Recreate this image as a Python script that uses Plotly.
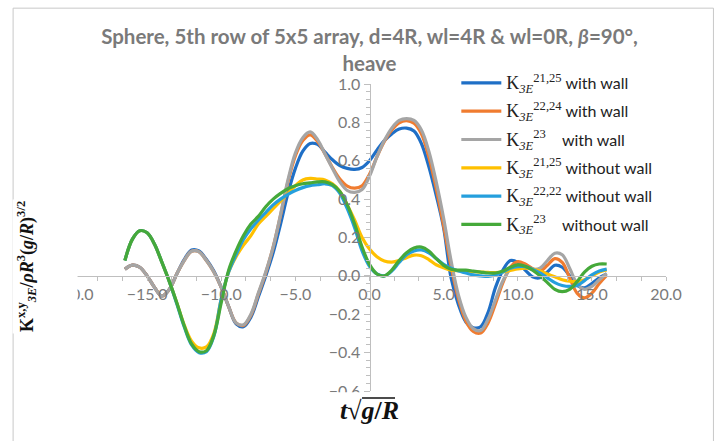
import plotly.graph_objects as go

# ---- data ----
t = [-16.5, -16.0, -15.5, -15.0, -14.5, -14.0, -13.5, -13.0, -12.5, -12.0,
     -11.5, -11.0, -10.5, -10.0, -9.5, -9.0, -8.5, -8.0, -7.5, -7.0,
     -6.5, -6.0, -5.5, -5.0, -4.5, -4.0, -3.5, -3.0, -2.5, -2.0,
     -1.5, -1.0, -0.5, 0.0, 0.5, 1.0, 1.5, 2.0, 2.5, 3.0,
     3.5, 4.0, 4.5, 5.0, 5.5, 6.0, 6.5, 7.0, 7.5, 8.0,
     8.5, 9.0, 9.5, 10.0, 10.5, 11.0, 11.5, 12.0, 12.5, 13.0,
     13.5, 14.0, 14.5, 15.0, 15.5, 16.0]

k2125_wall = [0.035, 0.056, 0.045, 0.000, -0.060, -0.105, -0.070, 0.010, 0.085, 0.135,
              0.130, 0.085, 0.025, -0.060, -0.160, -0.250, -0.265, -0.215, -0.110, 0.000,
              0.120, 0.270, 0.430, 0.560, 0.650, 0.690, 0.685, 0.645, 0.605, 0.575,
              0.560, 0.555, 0.565, 0.600, 0.655, 0.705, 0.740, 0.765, 0.770, 0.755,
              0.690, 0.570, 0.420, 0.250, -0.010, -0.150, -0.240, -0.270, -0.265, -0.190,
              -0.060, 0.030, 0.080, 0.070, 0.030, -0.005, -0.010, 0.020, 0.055, 0.045,
              0.000, -0.050, -0.062, -0.040, -0.010, 0.010]

k2224_wall = [0.035, 0.056, 0.045, 0.000, -0.060, -0.105, -0.070, 0.010, 0.080, 0.128,
              0.125, 0.080, 0.020, -0.060, -0.160, -0.245, -0.258, -0.205, -0.095, 0.015,
              0.150, 0.315, 0.490, 0.625, 0.705, 0.735, 0.700, 0.635, 0.565, 0.505,
              0.468, 0.457, 0.470, 0.530, 0.620, 0.700, 0.760, 0.798, 0.809, 0.795,
              0.740, 0.620, 0.455, 0.260, 0.050, -0.120, -0.235, -0.290, -0.298, -0.245,
              -0.145, -0.035, 0.045, 0.074, 0.062, 0.038, 0.025, 0.055, 0.090, 0.070,
              -0.010, -0.090, -0.115, -0.090, -0.040, 0.002]

k23_wall = [0.035, 0.056, 0.045, 0.000, -0.060, -0.105, -0.070, 0.010, 0.080, 0.128,
            0.125, 0.080, 0.020, -0.060, -0.160, -0.245, -0.255, -0.200, -0.090, 0.020,
            0.150, 0.320, 0.500, 0.640, 0.720, 0.750, 0.710, 0.635, 0.560, 0.490,
            0.445, 0.435, 0.450, 0.520, 0.620, 0.705, 0.770, 0.810, 0.820, 0.810,
            0.760, 0.650, 0.490, 0.300, 0.080, -0.100, -0.215, -0.275, -0.285, -0.225,
            -0.125, -0.025, 0.035, 0.055, 0.050, 0.035, 0.040, 0.080, 0.118, 0.110,
            0.040, -0.040, -0.070, -0.055, -0.020, 0.012]

k2125_nowall = [0.080, 0.190, 0.235, 0.225, 0.165, 0.070, -0.030, -0.140, -0.255, -0.340,
                -0.375, -0.370, -0.300, -0.120, 0.020, 0.100, 0.160, 0.210, 0.270, 0.310,
                0.350, 0.390, 0.430, 0.470, 0.500, 0.508, 0.505, 0.500, 0.480, 0.440,
                0.370, 0.290, 0.200, 0.140, 0.100, 0.078, 0.072, 0.080, 0.095, 0.108,
                0.105, 0.085, 0.058, 0.042, 0.030, 0.027, 0.025, 0.022, 0.020, 0.018,
                0.017, 0.020, 0.028, 0.036, 0.040, 0.036, 0.025, 0.010, -0.005, -0.020,
                -0.028, -0.030, -0.020, 0.000, 0.020, 0.031]

k2222_nowall = [0.080, 0.190, 0.235, 0.225, 0.165, 0.070, -0.030, -0.145, -0.265, -0.360,
                -0.400, -0.395, -0.315, -0.120, 0.020, 0.110, 0.190, 0.245, 0.290, 0.330,
                0.370, 0.400, 0.425, 0.445, 0.460, 0.470, 0.475, 0.480, 0.470, 0.430,
                0.350, 0.250, 0.130, 0.050, 0.010, 0.000, 0.025, 0.070, 0.110, 0.130,
                0.135, 0.120, 0.090, 0.060, 0.040, 0.025, 0.015, 0.005, 0.000, -0.003,
                0.005, 0.020, 0.040, 0.048, 0.048, 0.035, 0.015, -0.010, -0.035, -0.050,
                -0.055, -0.050, -0.025, 0.005, 0.025, 0.035]

k23_nowall = [0.080, 0.190, 0.235, 0.225, 0.165, 0.070, -0.030, -0.140, -0.260, -0.355,
              -0.395, -0.390, -0.310, -0.140, 0.030, 0.130, 0.210, 0.270, 0.310, 0.360,
              0.400, 0.430, 0.455, 0.470, 0.480, 0.485, 0.490, 0.490, 0.475, 0.440,
              0.370, 0.270, 0.150, 0.060, 0.010, 0.000, 0.030, 0.080, 0.120, 0.145,
              0.150, 0.130, 0.090, 0.055, 0.035, 0.030, 0.030, 0.025, 0.020, 0.015,
              0.015, 0.025, 0.045, 0.057, 0.050, 0.030, 0.000, -0.035, -0.070, -0.082,
              -0.070, -0.030, 0.020, 0.050, 0.062, 0.062]

SERIF = "'Liberation Serif', 'DejaVu Serif', serif"


def kname(sup, tail):
    return (f"<span style=\"font-family:{SERIF};font-size:18px\">K<sub><i>3E</i></sub><sup>{sup}</sup></span>"
            + tail)


series = [
    (kname("21,25", "\u00a0with wall"), k2125_wall, "#1F6FC6"),
    (kname("22,24", "\u00a0with wall"), k2224_wall, "#F07C30"),
    (kname("23", "\u00a0\u00a0\u00a0\u00a0with wall"), k23_wall, "#A5A5A5"),
    (kname("21,25", "\u00a0without wall"), k2125_nowall, "#FFC000"),
    (kname("22,22", "\u00a0without wall"), k2222_nowall, "#259FDD"),
    (kname("23", "\u00a0\u00a0\u00a0\u00a0without wall"), k23_nowall, "#45A93A"),
]

x_ticks = [-20, -15, -10, -5, 0, 5, 10, 15, 20]
y_ticks = [-0.6, -0.4, -0.2, 0.0, 0.2, 0.4, 0.6, 0.8, 1.0]

fig = go.Figure()
for i, (name, ys, col) in enumerate(series):
    fig.add_trace(go.Scatter(
        x=t, y=ys, name=name, mode="lines", legendgroup=f"g{i}",
        line=dict(color=col, width=3.2, shape="spline", smoothing=1.0),
    ))

AX = "#BFBFBF"
TICKF = dict(family="Lato, 'Open Sans', sans-serif", size=16, color="#7A7A7A")

fig.update_layout(
    width=726, height=441,
    margin=dict(l=73, r=60, t=84, b=50, autoexpand=False),
    paper_bgcolor="white", plot_bgcolor="white",
    showlegend=True,
    title=dict(
        text="Sphere, 5th row of 5x5 array, d=4R, wl=4R &amp; wl=0R, <i>β</i>=90°,<br>heave",
        x=0.5, xref="paper", xanchor="center",
        y=0.900, yref="container", yanchor="top",
        font=dict(family="Lato, sans-serif", size=20.5, color="#7A7A7A", weight="bold"),
    ),
    legend=dict(
        x=0.6464, y=1.0587, xanchor="left", yanchor="top",
        bgcolor="rgba(0,0,0,0)", borderwidth=0,
        font=dict(family="Lato, 'Open Sans', sans-serif", size=16, color="#222222"),
        tracegroupgap=4.5, itemwidth=40,
    ),
    xaxis=dict(
        range=[-20, 20], tickvals=x_ticks, tickformat=".1f",
        showgrid=False, zeroline=False, showline=True, linecolor=AX, linewidth=1,
        ticks="outside", ticklen=4, tickcolor=AX, tickfont=TICKF,
        anchor="free", position=0.375,
        minor=dict(dtick=5 / 3, ticks="outside", ticklen=4, tickcolor=AX, showgrid=False),
    ),
    yaxis=dict(
        range=[-0.6, 1.0], tickvals=y_ticks, tickformat=".1f",
        showgrid=False, zeroline=False, showline=True, linecolor=AX, linewidth=1,
        ticks="outside", ticklen=6, tickcolor=AX, tickfont=TICKF,
        anchor="free", position=0.5,
        minor=dict(dtick=0.04, ticks="outside", ticklen=4, tickcolor=AX, showgrid=False),
    ),
)

# chart-area border
fig.add_shape(type="rect", xref="paper", yref="paper",
              x0=-0.101, x1=1.08, y0=-0.2, y1=1.247,
              line=dict(color="#C8C8C8", width=1), fillcolor="rgba(0,0,0,0)", layer="above")

# white box of the x-axis title (hides the lower half of the lowest y label)
fig.add_shape(type="rect", xref="paper", yref="paper",
              x0=0.43, x1=0.50, y0=-0.14, y1=-0.004,
              line=dict(width=0), fillcolor="white", layer="above")
# overbar of the square root
fig.add_shape(type="line", xref="paper", yref="paper",
              x0=0.4874, x1=0.5430, y0=-0.0228, y1=-0.0228,
              line=dict(color="#111111", width=1.5), layer="above")

# y-axis title
fig.add_annotation(
    xref="paper", yref="paper", x=-0.0472, y=0.404, xanchor="center", yanchor="middle",
    textangle=-90,
    text=("<b>K<sup>x,y</sup><sub><i>3E</i></sub>/<i>ρR</i><sup>3</sup>"
          "(<i>g</i>/<i>R</i>)<sup>3/2</sup></b>"),
    showarrow=False, bgcolor="white", height=62, valign="top",
    font=dict(family=SERIF, size=18, color="#111111"),
)

# x-axis title
fig.add_annotation(
    xref="paper", yref="paper", x=0.5, y=-0.062, xanchor="center", yanchor="middle",
    text="<b><i>t</i>√<i>g</i>/<i>R</i></b>",
    showarrow=False,
    font=dict(family=SERIF, size=26, color="#111111"),
)

fig.write_html("out.html",
               config={"displayModeBar": False},
               post_script="document.body.style.margin='0';document.body.style.padding='0';")
